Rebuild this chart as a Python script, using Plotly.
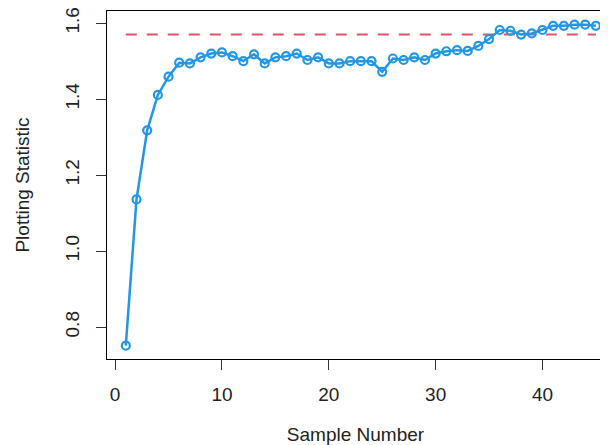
import plotly.graph_objects as go

# data
sample_number = list(range(1, 46))
plotting_statistic = [
    0.751, 1.136, 1.318, 1.411, 1.459, 1.496, 1.494, 1.510, 1.520, 1.523,
    1.513, 1.500, 1.518, 1.494, 1.510, 1.513, 1.520, 1.503, 1.510, 1.494,
    1.494, 1.500, 1.500, 1.500, 1.472, 1.507, 1.503, 1.510, 1.503, 1.520,
    1.526, 1.529, 1.527, 1.540, 1.558, 1.582, 1.580, 1.570, 1.573, 1.582,
    1.593, 1.593, 1.596, 1.596, 1.593,
]
limit_x = [1, 45]
limit_y = [1.57, 1.57]

x_ticks = [0, 10, 20, 30, 40]
y_ticks = [0.8, 1.0, 1.2, 1.4, 1.6]
y_tick_text = ["0.8", "1.0", "1.2", "1.4", "1.6"]

FONT = "Liberation Sans, Arial, sans-serif"
BLUE = "#2297E6"
RED = "#DF536B"

fig = go.Figure()
fig.add_trace(go.Scatter(
    x=limit_x, y=limit_y, mode="lines",
    line=dict(color=RED, width=2, dash="11px,10px"),
    hoverinfo="skip",
))
fig.add_trace(go.Scatter(
    x=sample_number, y=plotting_statistic, mode="lines+markers",
    line=dict(color=BLUE, width=2.5),
    marker=dict(symbol="circle-open", size=8, color=BLUE, line=dict(width=2.2, color=BLUE)),
))

axis_common = dict(
    showgrid=False, zeroline=False, showline=True, linecolor="black", linewidth=1,
    mirror=True, ticks="outside", ticklen=10, tickcolor="#333", tickwidth=1,
    automargin=False, ticklabeloverflow="allow",
    tickfont=dict(family=FONT, size=19, color="#222"),
)

# page body has an 8px margin, so the figure is 8px smaller and shifted
fig.update_layout(
    template="none",
    width=600, height=437,
    margin=dict(l=99, r=4, t=3, b=86),
    paper_bgcolor="white", plot_bgcolor="white",
    showlegend=False,
    font=dict(family=FONT, size=19, color="#222"),
    xaxis=dict(
        range=[-0.76, 45.76], tickvals=x_ticks, ticklabelstandoff=8,
        title=dict(text="Sample Number", font=dict(family=FONT, size=19, color="#222"), standoff=27),
        **axis_common,
    ),
    yaxis=dict(
        range=[0.716, 1.632], tickvals=y_ticks, ticktext=y_tick_text, tickangle=-90,
        ticklabelstandoff=9,
        title=dict(text="Plotting Statistic", font=dict(family=FONT, size=19, color="#222"), standoff=27),
        **axis_common,
    ),
)

fig.write_html("out.html")
